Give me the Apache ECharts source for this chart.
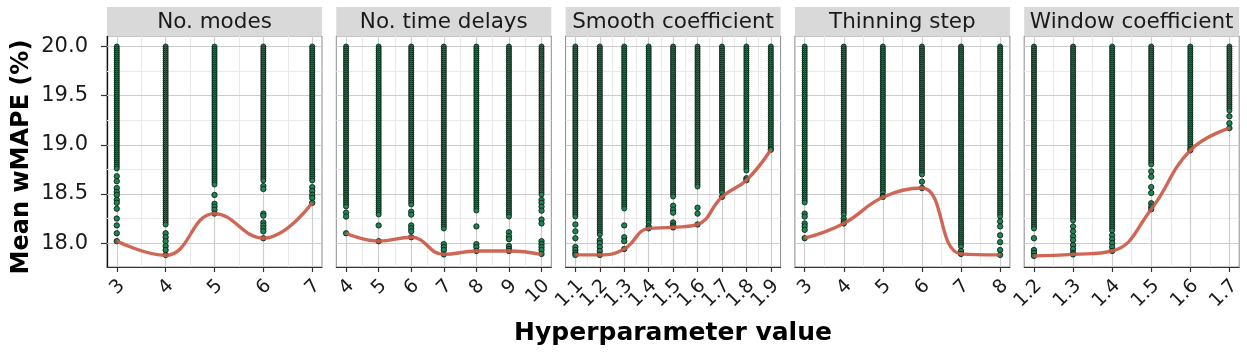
<!DOCTYPE html>
<html><head><meta charset="utf-8">
<script src="https://cdn.jsdelivr.net/npm/echarts@6/dist/echarts.min.js"></script>
<style>html,body{margin:0;padding:0;background:#fff}#c{width:1247px;height:354px}</style>
</head><body><div id="c"></div><script>
// ---------- DATA ----------
const panelTitles = ['No. modes','No. time delays','Smooth coefficient','Thinning step','Window coefficient'];
const xTicks = [
  [3,4,5,6,7],
  [4,5,6,7,8,9,10],
  [1.1,1.2,1.3,1.4,1.5,1.6,1.7,1.8,1.9],
  [3,4,5,6,7,8],
  [1.2,1.3,1.4,1.5,1.6,1.7]
];
const xMinorTicks = [
  [3.5,4.5,5.5,6.5],
  [4.5,5.5,6.5,7.5,8.5,9.5],
  [1.15,1.25,1.35,1.45,1.55,1.65,1.75,1.85],
  [3.5,4.5,5.5,6.5,7.5],
  [1.25,1.35,1.45,1.55,1.65]
];
const xRanges = [[2.8,7.2],[3.7,10.3],[1.06,1.94],[2.75,8.25],[1.175,1.725]];
const xDecimals = [0,0,1,0,1];
const yTicks = [18.0,18.5,19.0,19.5,20.0];
const yMinorTicks = [18.25,18.75,19.25,19.75];
const yRange = [17.757,20.107];

// dense runs of points: from denseLow up to denseHigh (per column)
const denseHigh = 20.0;
const denseLowModes   = [18.74,18.17,18.58,18.62,18.63];
const denseLowDelays  = [18.37,18.29,18.39,18.14,18.32,18.27,18.49];
const denseLowSmooth  = [18.27,18.07,18.34,18.19,18.46,18.57,18.51,18.73,18.96];
const denseLowThin    = [18.41,18.29,18.51,18.69,17.95,18.27];
const denseLowWindow  = [18.135,18.22,18.12,18.78,18.96,19.335];

// isolated points below the dense runs (per column)
const sparseModes = [
  [18.68,18.63,18.56,18.52,18.49,18.44,18.41,18.35,18.25,18.18,18.10,18.02],
  [18.10,18.06,18.02,17.97,17.93,17.88],
  [18.49,18.40,18.37,18.34,18.30],
  [18.58,18.55,18.30,18.28,18.21,18.18,18.15,18.12,18.05],
  [18.57,18.53,18.49,18.46,18.41]
];
const sparseDelays = [
  [18.31,18.27,18.10],
  [18.18,18.02],
  [18.32,18.29,18.18,18.15,18.12,18.06],
  [17.99,17.96,17.93,17.885],
  [18.17,17.99,17.96,17.92],
  [18.11,18.07,18.04,17.97,17.94,17.92],
  [18.44,18.41,18.37,18.33,18.24,18.20,18.02,17.99,17.96,17.93,17.89]
];
const sparseSmooth = [
  [18.19,18.12,18.05,17.96,17.93,17.90,17.88],
  [18.03,18.00,17.96,17.92,17.88],
  [18.18,18.06,18.02,17.94],
  [18.17,18.15],
  [18.38,18.34,18.31,18.21,18.18,18.16],
  [18.36,18.30,18.19],
  [18.47],
  [18.66,18.64],
  [18.95]
];
const sparseThin = [
  [18.30,18.27,18.20,18.17,18.135,18.05],
  [18.25,18.22,18.20],
  [18.48,18.47],
  [18.625,18.56],
  [17.92,17.89],
  [18.22,18.17,18.08,18.01,17.93,17.88]
];
const sparseWindow = [
  [18.05,17.93,17.90,17.87],
  [18.17,18.12,18.07,18.03,17.98,17.94,17.90,17.885],
  [18.08,18.04,18.00,17.96,17.92],
  [18.73,18.675,18.57,18.51,18.405,18.37,18.345],
  [18.945],
  [19.29,19.22,19.17]
];

// minimum (best) value per hyperparameter value — red smooth line
const bestModes  = [18.02,17.875,18.30,18.05,18.41];
const bestDelays = [18.10,18.02,18.06,17.885,17.92,17.92,17.885];
const bestSmooth = [17.88,17.88,17.94,18.15,18.16,18.19,18.47,18.64,18.95];
const bestThin   = [18.05,18.20,18.467,18.56,17.89,17.88];
const bestWindow = [17.87,17.885,17.92,18.345,18.945,19.17];

const denseLow = [denseLowModes,denseLowDelays,denseLowSmooth,denseLowThin,denseLowWindow];
const sparse = [sparseModes,sparseDelays,sparseSmooth,sparseThin,sparseWindow];
const best = [bestModes,bestDelays,bestSmooth,bestThin,bestWindow];

// ---------- STYLE / LAYOUT ----------
const GREEN = '#1d8553', OUTLINE = '#0a140d', RED = '#cb5a49';
const MAJOR = '#cdcdcd', MINOR = '#e9e9e9';
const FONT = 'DejaVu Sans';
const L0 = 107, PW = 215, PITCH = 229.3, TOP = 36, PH = 231, STRIP_TOP = 7;

const grids = [], xAxes = [], xAxesAlt = [], yAxes = [], series = [], graphics = [];

panelTitles.forEach((title, i) => {
  const left = L0 + i * PITCH;
  grids.push({left, top: TOP, width: PW, height: PH, show: true, borderColor: '#8c8c8c', borderWidth: 1, backgroundColor: '#fff'});
  const fmt = v => xDecimals[i] ? Number(v).toFixed(1) : String(Math.round(v));
  const evenTicks = xTicks[i].filter((v, k) => k % 2 === 0);
  const oddTicks = xTicks[i].filter((v, k) => k % 2 === 1);
  const labelStyle = {rotate: 45, align: 'right', verticalAlign: 'top', margin: 11, lineHeight: 14,
    hideOverlap: false, fontFamily: FONT, fontSize: 19, color: '#1a1a1a', formatter: fmt};
  xAxes.push({
    type: 'value', gridIndex: i, position: 'bottom', min: xRanges[i][0], max: xRanges[i][1],
    splitLine: {show: false},
    axisLine: {show: true, onZero: false, lineStyle: {color: '#333', width: 1.2}},
    axisTick: {show: true, customValues: xTicks[i], length: 5, lineStyle: {color: '#333', width: 1.2}},
    axisLabel: Object.assign({customValues: evenTicks, showMinLabel: true, showMaxLabel: true}, labelStyle)
  });
  xAxesAlt.push({
    type: 'value', gridIndex: i, position: 'bottom', offset: 0, min: xRanges[i][0], max: xRanges[i][1],
    splitLine: {show: false}, axisLine: {show: false, onZero: false}, axisTick: {show: false},
    axisLabel: Object.assign({customValues: oddTicks, showMinLabel: true, showMaxLabel: true}, labelStyle)
  });
  yAxes.push({
    type: 'value', gridIndex: i, min: yRange[0], max: yRange[1],
    splitLine: {show: false},
    axisLine: {show: i === 0, onZero: false, lineStyle: {color: '#111', width: 1.3}},
    axisTick: {show: i === 0, customValues: yTicks, length: 6, lineStyle: {color: '#333', width: 1.2}},
    axisLabel: {show: i === 0, customValues: yTicks, margin: 19, fontFamily: FONT, fontSize: 21, color: '#1a1a1a',
      showMinLabel: true, showMaxLabel: true, formatter: v => Number(v).toFixed(1)}
  });

  // grid lines
  const ml = [];
  yMinorTicks.forEach(v => ml.push({yAxis: v, lineStyle: {color: MINOR, width: 1, type: 'solid'}}));
  xMinorTicks[i].forEach(v => ml.push({xAxis: v, lineStyle: {color: MINOR, width: 1, type: 'solid'}}));
  yTicks.forEach(v => ml.push({yAxis: v, lineStyle: {color: MAJOR, width: 1.2, type: 'solid'}}));
  xTicks[i].forEach(v => ml.push({xAxis: v, lineStyle: {color: MAJOR, width: 1.2, type: 'solid'}}));
  series.push({
    type: 'line', xAxisIndex: i, yAxisIndex: i, data: [], z: 1, silent: true, animation: false,
    markLine: {z: 1, zlevel: 0, silent: true, symbol: ['none','none'], label: {show: false}, animation: false, data: ml}
  });

  // dense runs
  series.push({
    type: 'custom', xAxisIndex: i, yAxisIndex: i, z: 3, silent: true, animation: false,
    data: xTicks[i].map((x, j) => [x, denseLow[i][j], denseHigh]),
    renderItem: (params, api) => {
      const x = api.value(0);
      const top = api.coord([x, api.value(2)]);
      const bot = api.coord([x, api.value(1)]);
      const children = [];
      for (let y = top[1]; y <= bot[1] + 0.01; y += 2.0) {
        children.push({type: 'circle', shape: {cx: top[0], cy: y, r: 2.5},
          style: {fill: GREEN, stroke: OUTLINE, lineWidth: 0.8}});
      }
      return {type: 'group', children};
    }
  });

  // isolated points
  const pts = [];
  xTicks[i].forEach((x, j) => sparse[i][j].forEach(v => pts.push([x, v])));
  series.push({
    type: 'scatter', xAxisIndex: i, yAxisIndex: i, data: pts, symbol: 'circle', symbolSize: 5.4, z: 3,
    silent: true, animation: false,
    itemStyle: {color: GREEN, borderColor: OUTLINE, borderWidth: 0.8, opacity: 1}
  });

  // smooth line through best values
  series.push({
    type: 'line', xAxisIndex: i, yAxisIndex: i, z: 5, silent: true, animation: false,
    data: xTicks[i].map((x, j) => [x, best[i][j]]),
    smooth: 0.45, showSymbol: false, symbol: 'none',
    lineStyle: {color: RED, width: 3.4, opacity: 0.92}
  });

  // strip
  graphics.push({type: 'rect', shape: {x: left, y: STRIP_TOP, width: PW, height: TOP - STRIP_TOP},
    style: {fill: '#d9d9d9'}, silent: true, z: 10});
  graphics.push({type: 'text', x: left + PW / 2, y: STRIP_TOP + (TOP - STRIP_TOP) / 2 + 1, silent: true, z: 11,
    style: {text: title, font: '21.5px "DejaVu Sans"', fill: '#1a1a1a', textAlign: 'center', textVerticalAlign: 'middle'}});
});

graphics.push({type: 'text', x: 22, y: 157, rotation: Math.PI / 2, silent: true, z: 11,
  style: {text: 'Mean wMAPE (%)', font: 'bold 24px "DejaVu Sans"', fill: '#000', textAlign: 'center', textVerticalAlign: 'middle'}});
graphics.push({type: 'text', x: 673, y: 333, silent: true, z: 11,
  style: {text: 'Hyperparameter value', font: 'bold 25px "DejaVu Sans"', fill: '#000', textAlign: 'center', textVerticalAlign: 'middle'}});

const chart = echarts.init(document.getElementById('c'), null, {renderer: 'canvas'});
chart.setOption({
  animation: false,
  backgroundColor: '#fff',
  grid: grids, xAxis: xAxes.concat(xAxesAlt), yAxis: yAxes, series,
  graphic: graphics
});
</script></body></html>
